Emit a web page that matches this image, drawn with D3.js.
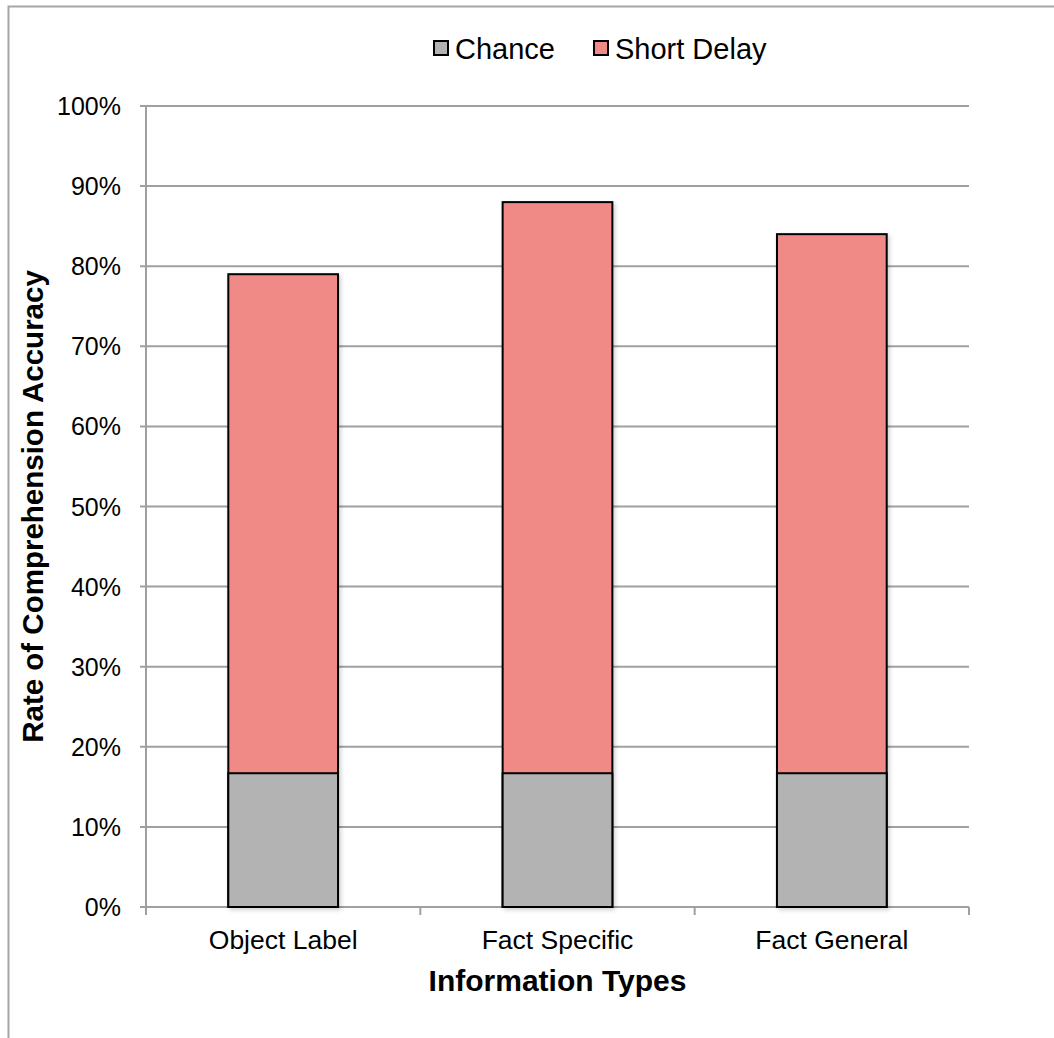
<!DOCTYPE html>
<html>
<head>
<meta charset="utf-8">
<script src="https://cdn.jsdelivr.net/npm/d3@7"></script>
<style>
  body { margin: 0; background: #fff; }
  svg { font-family: "Liberation Sans", Arial, sans-serif; }
</style>
</head>
<body>
<svg id="chart" width="1054" height="1038"></svg>
<script>
// data
var categories = ["Object Label", "Fact Specific", "Fact General"];
var chance = [16.7, 16.7, 16.7];
var shortDelay = [79, 88, 84];
var yTicks = [0, 10, 20, 30, 40, 50, 60, 70, 80, 90, 100];
var seriesNames = ["Chance", "Short Delay"];
var seriesColors = ["#b3b3b3", "#f08a87"];

var svg = d3.select("#chart");
var margin = { left: 146, right: 85, top: 106, bottom: 131 };
var W = 1054, H = 1038;
var plotW = W - margin.left - margin.right;
var plotH = H - margin.top - margin.bottom;

// outer frame (runs off the right and bottom)
svg.append("path")
    .attr("d", "M8.5," + (H + 5) + "V6.5H" + (W + 5))
    .attr("fill", "none").attr("stroke", "#a6a6a6").attr("stroke-width", 2);

var g = svg.append("g").attr("transform", `translate(${margin.left},${margin.top})`);

var x = d3.scaleBand().domain(categories).range([0, plotW]).paddingInner(0.6).paddingOuter(0.3);
var xOuter = d3.scaleBand().domain(categories).range([0, plotW]);
var y = d3.scaleLinear().domain([0, 100]).range([plotH, 0]);

// grid lines
g.selectAll(".grid").data(yTicks).enter().append("line")
    .attr("x1", -6).attr("x2", plotW)
    .attr("y1", d => y(d)).attr("y2", d => y(d))
    .attr("stroke", "#a0a0a0").attr("stroke-width", 2);

// y axis line
g.append("line").attr("x1", 0).attr("x2", 0).attr("y1", 0).attr("y2", plotH + 8)
    .attr("stroke", "#a0a0a0").attr("stroke-width", 2);

// x category ticks
var xTickPos = categories.map(c => xOuter(c)).concat([plotW]);
g.selectAll(".xtick").data(xTickPos).enter().append("line")
    .attr("x1", d => d).attr("x2", d => d)
    .attr("y1", plotH).attr("y2", plotH + 8)
    .attr("stroke", "#a0a0a0").attr("stroke-width", 2);

// y tick labels
g.selectAll(".ylab").data(yTicks).enter().append("text")
    .attr("x", -25).attr("y", d => y(d) + 9)
    .attr("text-anchor", "end").attr("font-size", 25).attr("fill", "#000")
    .text(d => d + "%");

// shadow filter
var defs = svg.append("defs");
var f = defs.append("filter").attr("id", "shadow").attr("x", "-10%").attr("y", "-10%").attr("width", "130%").attr("height", "130%");
f.append("feDropShadow").attr("dx", 2).attr("dy", 2).attr("stdDeviation", 2).attr("flood-color", "#000").attr("flood-opacity", 0.18);

// bars: short delay drawn full height, chance on top
g.selectAll(".sd").data(categories).enter().append("rect")
    .attr("x", d => x(d)).attr("width", x.bandwidth())
    .attr("y", (d, i) => y(shortDelay[i]))
    .attr("height", (d, i) => y(0) - y(shortDelay[i]))
    .attr("fill", seriesColors[1]).attr("stroke", "#000").attr("stroke-width", 2)
    .attr("filter", "url(#shadow)");

g.selectAll(".ch").data(categories).enter().append("rect")
    .attr("x", d => x(d)).attr("width", x.bandwidth())
    .attr("y", (d, i) => y(chance[i]))
    .attr("height", (d, i) => y(0) - y(chance[i]))
    .attr("fill", seriesColors[0]).attr("stroke", "#000").attr("stroke-width", 2);

// category labels
g.selectAll(".xlab").data(categories).enter().append("text")
    .attr("x", d => x(d) + x.bandwidth() / 2).attr("y", plotH + 42)
    .attr("text-anchor", "middle").attr("font-size", 26.5).attr("fill", "#000")
    .text(d => d);

// axis titles
svg.append("text")
    .attr("x", margin.left + plotW / 2).attr("y", 991)
    .attr("text-anchor", "middle").attr("font-size", 30).attr("font-weight", "bold")
    .text("Information Types");

svg.append("text")
    .attr("transform", `translate(43,${margin.top + plotH / 2}) rotate(-90)`)
    .attr("text-anchor", "middle").attr("font-size", 29.5).attr("font-weight", "bold")
    .text("Rate of Comprehension Accuracy");

// legend
var legendX = [433, 593];
var leg = svg.selectAll(".leg").data(seriesNames).enter().append("g")
    .attr("transform", (d, i) => `translate(${legendX[i]},40)`);
leg.append("rect").attr("x", 1).attr("y", 1).attr("width", 14).attr("height", 14)
    .attr("fill", (d, i) => seriesColors[i]).attr("stroke", "#000").attr("stroke-width", 2);
leg.append("text").attr("x", 22).attr("y", 19)
    .attr("font-size", 29).attr("fill", "#000")
    .text(d => d);
</script>
</body>
</html>
